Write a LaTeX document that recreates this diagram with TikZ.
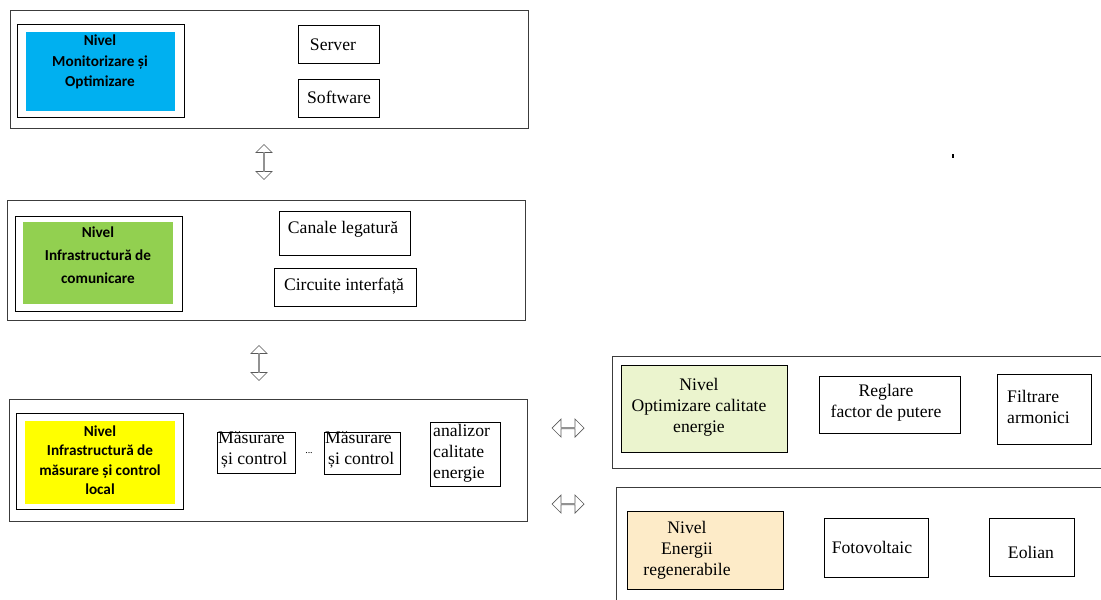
\documentclass[tikz,border=0pt]{standalone}
\usepackage{fontspec}
\setmainfont{Liberation Serif}
\newfontfamily\lvlfont{Carlito}
\usetikzlibrary{shapes.arrows}
\definecolor{lvlblue}{RGB}{0,176,240}
\definecolor{lvlgreen}{RGB}{146,208,80}
\definecolor{lvlyellow}{RGB}{255,255,0}
\definecolor{lvllime}{RGB}{235,244,206}
\definecolor{lvlpeach}{RGB}{253,235,200}
\definecolor{outerline}{RGB}{60,60,60}
\tikzset{
  outerbox/.style={draw=outerline, line width=1.2bp, anchor=north west, inner sep=0},
  inbox/.style={draw=black, line width=1bp, anchor=north west, inner sep=0},
  fillbox/.style={anchor=north west, inner sep=0},
  sertxt/.style={inner sep=0, font=\fontsize{17.7}{21}\selectfont, align=center},
  lvltxt/.style={inner sep=0, font=\lvlfont\bfseries\fontsize{15.3}{20.5}\selectfont, align=center},
  udarrow/.style={double arrow, draw=black!65, line width=0.7bp, fill=white,
    minimum height=35bp, minimum width=16bp, double arrow head extend=4bp, inner sep=0,
    shape border rotate=90},
  lrarrow/.style={double arrow, draw=black!65, line width=0.7bp, fill=white,
    minimum height=32bp, minimum width=18bp, double arrow head extend=4.5bp, inner sep=0}
}
\begin{document}
\begin{tikzpicture}[x=1bp,y=-1bp]
\useasboundingbox (0,0) rectangle (1101,600);
\clip (0,0) rectangle (1101,600);

% ---- Level 1
\node[outerbox, minimum width=518bp, minimum height=118bp] (L1) at (10,10) {};
\node[inbox, minimum width=167bp, minimum height=93bp] (L1in) at (17,24) {};
\node[fillbox, fill=lvlblue, minimum width=149bp, minimum height=79bp] (L1fill) at (26,32) {};
\node[lvltxt] (L1txt) at (100,62) {Nivel\\Monitorizare și\\Optimizare};
\node[inbox, minimum width=81bp, minimum height=38bp] (server) at (298,25) {};
\node[sertxt] at (333,45) {Server};
\node[inbox, minimum width=81bp, minimum height=38bp] (software) at (298,79) {};
\node[sertxt] at (339,97) {Software};

% ---- Level 2
\node[outerbox, minimum width=518bp, minimum height=120bp] (L2) at (7,200) {};
\node[inbox, minimum width=167bp, minimum height=95bp] (L2in) at (15,216) {};
\node[fillbox, fill=lvlgreen, minimum width=150bp, minimum height=82bp] (L2fill) at (23,222) {};
\node[lvltxt, font=\lvlfont\bfseries\fontsize{15.3}{23}\selectfont] (L2txt) at (98,255) {Nivel\\Infrastructură de\\comunicare};
\node[inbox, minimum width=131bp, minimum height=44bp] (canale) at (279,211) {};
\node[sertxt] at (343,229) {Canale legatură};
\node[inbox, minimum width=142bp, minimum height=38bp] (circuite) at (274,268) {};
\node[sertxt] at (344,286) {Circuite interfață};

% ---- Level 3
\node[outerbox, minimum width=518bp, minimum height=122bp] (L3) at (9,399) {};
\node[inbox, minimum width=167bp, minimum height=96bp] (L3in) at (16,413) {};
\node[fillbox, fill=lvlyellow, minimum width=150bp, minimum height=83bp] (L3fill) at (25,421) {};
\node[lvltxt, font=\lvlfont\bfseries\fontsize{15.3}{19.5}\selectfont] (L3txt) at (100,460) {Nivel\\Infrastructură de\\măsurare și control\\local};
\node[inbox, minimum width=78bp, minimum height=41bp] (mas1) at (217,432) {};
\node[sertxt, align=left, anchor=north west] at (218,431) {Măsurare\\\hspace{3bp}și control};
\node[inner sep=0, font=\fontsize{10}{10}\selectfont] (dots) at (309,453) {...};
\node[inbox, minimum width=76bp, minimum height=42bp] (mas2) at (324,432) {};
\node[sertxt, align=left, anchor=north west] at (325,431) {Măsurare\\\hspace{3bp}și control};
\node[inbox, minimum width=70bp, minimum height=64bp] (analizor) at (430,422) {};
\node[sertxt, align=left, anchor=north west] at (433,424) {analizor\\calitate\\energie};

% ---- Level 4 (right top)
\node[outerbox, minimum width=510bp, minimum height=112bp] (L4) at (612,356) {};
\node[inbox, fill=lvllime, minimum width=166bp, minimum height=87bp] (L4in) at (621,365) {};
\node[sertxt] (L4txt) at (699,407) {Nivel\\Optimizare calitate\\energie};
\node[inbox, minimum width=141bp, minimum height=57bp] (reglare) at (819,376) {};
\node[sertxt] at (886,403) {Reglare\\factor de putere};
\node[inbox, minimum width=94bp, minimum height=70bp] (filtrare) at (997,374) {};
\node[sertxt, align=left, anchor=west] at (1007,407) {Filtrare\\armonici};

% ---- Level 5 (right bottom)
\node[outerbox, minimum width=510bp, minimum height=130bp] (L5) at (616,487) {};
\node[inbox, fill=lvlpeach, minimum width=156bp, minimum height=78bp] (L5in) at (627,511) {};
\node[sertxt] (L5txt) at (687,550) {Nivel\\Energii\\regenerabile};
\node[inbox, minimum width=104bp, minimum height=59bp] (foto) at (824,518) {};
\node[sertxt] at (872,547) {Fotovoltaic};
\node[inbox, minimum width=85bp, minimum height=58bp] (eolian) at (989,518) {};
\node[sertxt] at (1031,552) {Eolian};

% ---- arrows between levels
\node[udarrow] (a12) at (264,162) {};
\node[udarrow] (a23) at (259,363) {};
\node[lrarrow] (a34) at (568,428) {};
\node[lrarrow] (a35) at (568,504) {};

% ---- stray dot
\node[fill=black, inner sep=0, minimum width=2.5bp, minimum height=4bp] (dot) at (953,156) {};
\end{tikzpicture}
\end{document}
